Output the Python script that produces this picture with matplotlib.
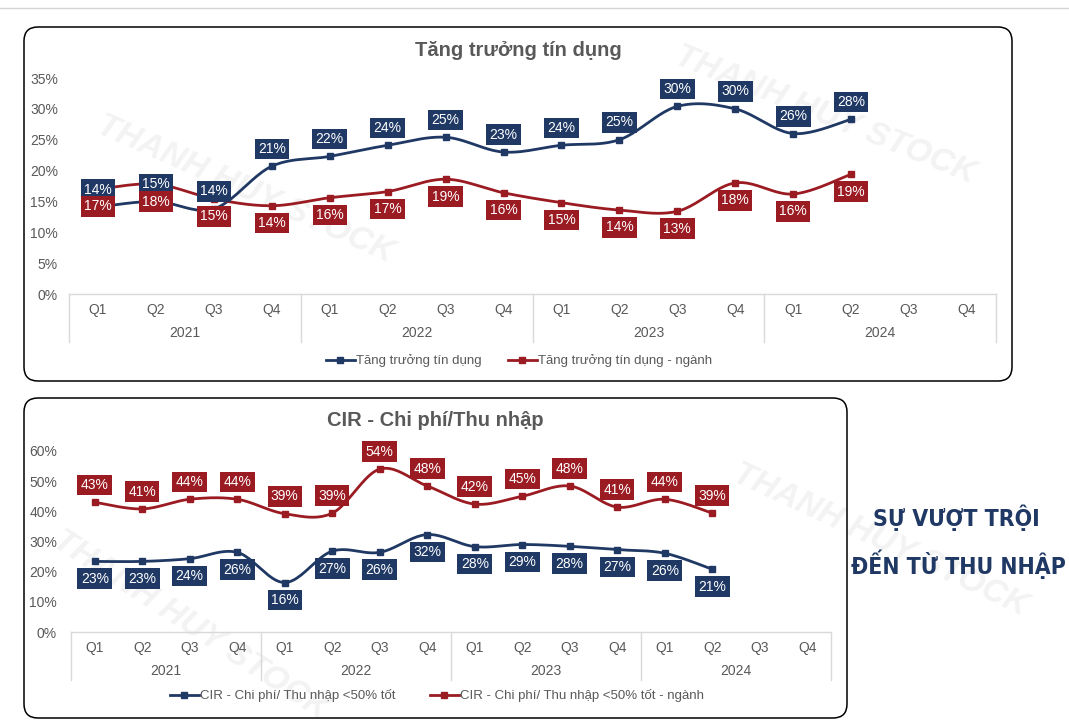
import numpy as np
import matplotlib
matplotlib.use('Agg')
import matplotlib.pyplot as plt
from matplotlib.patches import FancyBboxPatch
from matplotlib.lines import Line2D
from matplotlib.transforms import IdentityTransform

plt.rcParams['font.family'] = ['Liberation Sans', 'DejaVu Sans']

# ---- data ----
quarters = ['Q1', 'Q2', 'Q3', 'Q4'] * 4
years = ['2021', '2022', '2023', '2024']

credit_bank = [14.1, 15.0, 13.8, 20.7, 22.3, 24.1, 25.4, 23.0, 24.1, 25.0, 30.4, 30.0, 26.0, 28.3]
credit_industry = [17.0, 17.8, 15.4, 14.3, 15.6, 16.6, 18.6, 16.4, 14.8, 13.6, 13.4, 18.0, 16.2, 19.4]

cir_bank = [23.4, 23.4, 24.3, 26.4, 16.4, 26.8, 26.4, 32.3, 28.3, 29.0, 28.4, 27.3, 26.1, 20.8]
cir_industry = [43.0, 40.8, 44.0, 44.0, 39.2, 39.4, 54.0, 48.4, 42.4, 45.0, 48.4, 41.4, 44.0, 39.4]

BLUE = '#1f3864'
RED = '#9b1b22'
GREY = '#595959'
AXIS_GREY = '#d9d9d9'

W, H = 1069, 727


def fx(x):
    return x / W


def fy(y):
    return 1 - y / H


def smooth(y, n=24):
    '''Catmull-Rom curve through the points, like Excel's smoothed line'''
    y = np.asarray(y, dtype=float)
    x = np.arange(len(y), dtype=float)
    px = np.concatenate([[x[0]], x, [x[-1]]])
    py = np.concatenate([[y[0]], y, [y[-1]]])
    xs, ys = [], []
    t = np.linspace(0, 1, n)
    for i in range(1, len(px) - 2):
        for p, out in ((px, xs), (py, ys)):
            p0, p1, p2, p3 = p[i - 1], p[i], p[i + 1], p[i + 2]
            out.extend(0.5 * ((2 * p1) + (-p0 + p2) * t
                              + (2 * p0 - 5 * p1 + 4 * p2 - p3) * t ** 2
                              + (-p0 + 3 * p1 - 3 * p2 + p3) * t ** 3))
    return np.array(xs), np.array(ys)


def panel(x0, y0, x1, y1):
    box = FancyBboxPatch((x0, H - y1), x1 - x0, y1 - y0,
                         boxstyle='round,pad=0,rounding_size=14',
                         transform=IdentityTransform(), fc='none',
                         ec='black', lw=1.1, zorder=5)
    fig.add_artist(box)


def line_chart(box, title, title_xy, series, ymax, ystep, label_sides,
               legend_xy, tick_pad, legend_gap):
    left, top, right, bottom = box
    ax = fig.add_axes([fx(left), fy(bottom), (right - left) / W, (bottom - top) / H])
    ax.set_facecolor('none')
    h = bottom - top

    def ay(ypx):
        return (bottom - ypx) / h

    for (vals, color, name), side in zip(series, label_sides):
        sx, sy = smooth(vals)
        ax.plot(sx, sy, color=color, lw=2.0, zorder=3, solid_capstyle='round')
        ax.plot(range(len(vals)), vals, ls='none', marker='s', ms=5,
                color=color, zorder=4)
        off = 12.5 if side == 'above' else -12.5
        for i, v in enumerate(vals):
            ax.annotate(f'{round(v):.0f}%', (i, v), xytext=(0, off),
                        textcoords='offset points', ha='center', va='center',
                        color='white', fontsize=10, zorder=6,
                        bbox=dict(boxstyle='square,pad=0.24', fc=color, ec='none'))

    ax.set_xlim(-0.5, 15.5)
    ax.set_ylim(0, ymax)
    ax.set_yticks(np.arange(0, ymax + 0.1, ystep))
    ax.set_yticklabels([f'{v:.0f}%' for v in np.arange(0, ymax + 0.1, ystep)],
                       color=GREY, fontsize=10)
    ax.set_xticks([])
    ax.tick_params(axis='y', length=0, pad=tick_pad)
    for s in ['top', 'right', 'left']:
        ax.spines[s].set_visible(False)
    ax.spines['bottom'].set_color(AXIS_GREY)
    ax.spines['bottom'].set_linewidth(1.0)

    # two-level category axis
    tr = ax.get_xaxis_transform()
    for i, q in enumerate(quarters):
        ax.text(i, ay(bottom + 16), q, transform=tr, ha='center', va='center',
                fontsize=10, color=GREY)
    for k, yr in enumerate(years):
        ax.text(4 * k + 1.5, ay(bottom + 39), yr, transform=tr, ha='center',
                va='center', fontsize=10, color=GREY)
    for k in range(5):
        ax.plot([4 * k - 0.5] * 2, [0, ay(bottom + 48)], transform=tr,
                color=AXIS_GREY, lw=1.0, clip_on=False)

    fig.text(fx(title_xy[0]), fy(title_xy[1]), title, ha='center', va='center',
             fontsize=14.5, fontweight='bold', color=GREY)

    handles = [Line2D([], [], color=c, lw=2, marker='s', ms=5) for _, c, _ in series]
    fig.legend(handles, [n for _, _, n in series], loc='center',
               bbox_to_anchor=(fx(legend_xy[0]), fy(legend_xy[1])), ncols=2,
               frameon=False, fontsize=9.5, labelcolor=GREY, handlelength=2.2,
               handletextpad=0.1, columnspacing=legend_gap)
    return ax


fig = plt.figure(figsize=(W / 100, H / 100), dpi=100)

# faint separator at the very top
fig.add_artist(Line2D([0, 1], [fy(8), fy(8)], transform=fig.transFigure,
                      color='#d4d4d4', lw=1))

# watermarks
for (x, y, rot) in [(245, 190, -24), (825, 115, -22), (190, 625, -33), (880, 540, -25)]:
    fig.text(fx(x), fy(y), 'THANH HUY STOCK', ha='center', va='center',
             rotation=rot, fontsize=24, fontweight='bold', style='italic',
             color='#f3f3f3', zorder=-1)

panel(24, 27, 1012, 381)
panel(24, 398, 847, 718)

line_chart((69, 78, 996, 294), 'Tăng trưởng tín dụng', (518, 50),
           [(credit_bank, BLUE, 'Tăng trưởng tín dụng'),
            (credit_industry, RED, 'Tăng trưởng tín dụng - ngành')],
           35, 5, ['above', 'below'], (519, 361), 8, 2.0)

line_chart((71, 451, 831, 632), 'CIR - Chi phí/Thu nhập', (435, 421),
           [(cir_bank, BLUE, 'CIR - Chi phí/ Thu nhập <50% tốt'),
            (cir_industry, RED, 'CIR - Chi phí/ Thu nhập <50% tốt - ngành')],
           60, 10, ['below', 'above'], (437, 696), 10, 2.6)

# side caption
fig.text(fx(956), fy(518), 'SỰ VƯỢT TRỘI', ha='center', va='center',
         fontsize=16.5, fontweight='heavy', fontstretch='condensed',
         family=['DejaVu Sans'], color=BLUE)
fig.text(fx(958), fy(564), 'ĐẾN TỪ THU NHẬP', ha='center', va='center',
         fontsize=16.5, fontweight='heavy', fontstretch='condensed',
         family=['DejaVu Sans'], color=BLUE)

fig.savefig('out.png', dpi=100)
